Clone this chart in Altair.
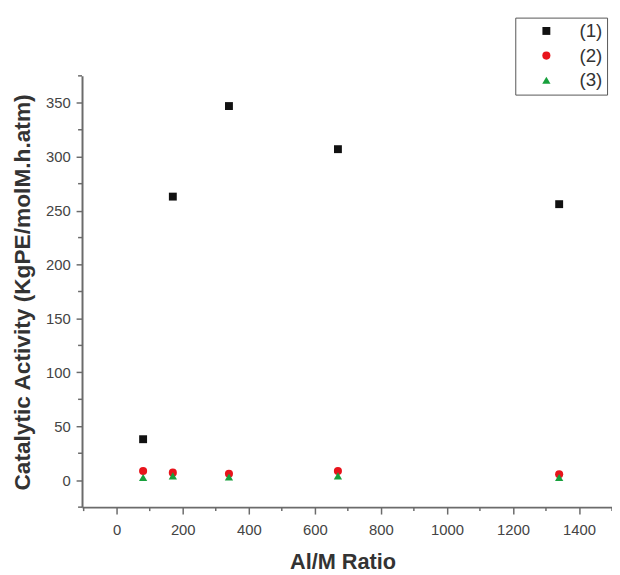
import altair as alt
import pandas as pd

# ---- data ----
ratio = [80, 170, 340, 670, 1340]
act1 = [38, 263, 347, 307, 256]
act2 = [8.5, 7, 6, 8.5, 5.5]
act3 = [2.5, 4, 3, 4, 2.5]
series = ["(1)", "(2)", "(3)"]
colors = ["#111111", "#e8141c", "#17a03c"]
shapes = ["square", "circle", "triangle-up"]
sizes = [64, 70, 85]

x_major = [0, 200, 400, 600, 800, 1000, 1200, 1400]
y_major = [0, 50, 100, 150, 200, 250, 300, 350]
x_minor = [-100, 100, 300, 500, 700, 900, 1100, 1300, 1500]
y_minor = [-25, 25, 75, 125, 175, 225, 275, 325, 375]
x_domain = [-105, 1500]
y_domain = [-25, 375]

rows = []
for name, vals in zip(series, [act1, act2, act3]):
    for r, v in zip(ratio, vals):
        rows.append({"ratio": r, "activity": v, "series": name})
df = pd.DataFrame(rows)

W, H = 537, 437
AX = "#6b6b6b"
FONT = "Liberation Sans"

xscale = alt.Scale(domain=x_domain, nice=False, zero=False)
yscale = alt.Scale(domain=y_domain, nice=False, zero=False)

xaxis = alt.Axis(values=x_major, format="d", title="Al/M Ratio", tickSize=7,
                 labelPadding=9, titleFontSize=22, titleFontWeight="bold",
                 titleColor="#333333", titleFont=FONT,
                 titleBaseline="alphabetic", titleY=62, titleX=264,
                 titleAnchor="middle")
yaxis = alt.Axis(values=y_major, format="d", title="Catalytic Activity (KgPE/molM.h.atm)",
                 tickSize=6, labelPadding=6, titleFontSize=23,
                 titleFontWeight="bold", titleColor="#333333", titleFont=FONT,
                 titleBaseline="alphabetic", titleAngle=270,
                 titleX=-53, titleY=219, titleAnchor="middle")

leg = alt.Legend(
    title=None, orient="none", legendX=439, legendY=-59,
    strokeColor="#555555", fillColor="white",
    padding=4, symbolSize=64, symbolOffset=18, labelOffset=24,
    labelFont=FONT, labelFontSize=19, labelColor="#333333",
    rowPadding=5, symbolStrokeWidth=0,
)

points = alt.Chart(df).mark_point(filled=True, opacity=1).encode(
    x=alt.X("ratio:Q", scale=xscale, axis=xaxis),
    y=alt.Y("activity:Q", scale=yscale, axis=yaxis),
    color=alt.Color("series:N", scale=alt.Scale(domain=series, range=colors), legend=leg),
    shape=alt.Shape("series:N", scale=alt.Scale(domain=series, range=shapes), legend=leg),
    size=alt.Size("series:N", scale=alt.Scale(domain=series, range=sizes), legend=leg),
)

ymin = alt.Chart(pd.DataFrame({"activity": y_minor})).mark_rule(
    color=AX, strokeWidth=1.5).encode(
    y=alt.Y("activity:Q", scale=yscale, axis=yaxis),
    x=alt.value(-4), x2=alt.value(0))

xmin = alt.Chart(pd.DataFrame({"ratio": x_minor})).mark_rule(
    color=AX, strokeWidth=1.5).encode(
    x=alt.X("ratio:Q", scale=xscale, axis=xaxis),
    y=alt.value(H), y2=alt.value(H + 4))

chart = alt.layer(ymin, xmin, points).properties(
    width=W, height=H, background="white",
    autosize=alt.AutoSizeParams(type="none"),
    padding={"left": 75, "top": 65, "right": 0, "bottom": 65},
).configure_view(strokeWidth=0).configure_axis(
    grid=False, domainColor=AX, domainWidth=2, tickColor=AX, tickWidth=1.5,
    labelColor="#444444", labelFont=FONT, labelFontSize=15,
).configure_legend(strokeWidth=1)

chart.save("out.html", embed_options={"renderer": "svg", "actions": False})
